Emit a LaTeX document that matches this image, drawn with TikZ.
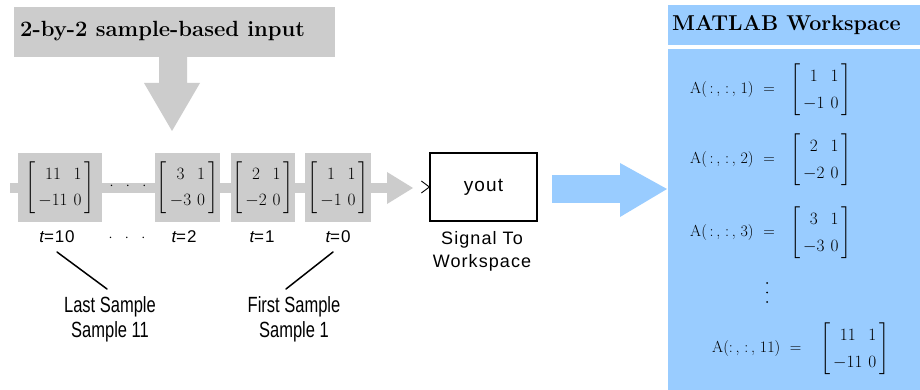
\documentclass[tikz,border=0pt]{standalone}
\usepackage{fontspec}
\usepackage{amsmath}
\usetikzlibrary{calc}
\newfontfamily\simfont[FakeStretch=0.75]{Liberation Sans}
\newfontfamily\blkfont[LetterSpace=6]{Liberation Sans}
\newfontfamily\tfont[LetterSpace=5]{Liberation Sans}
\definecolor{gbox}{HTML}{CCCCCC}
\definecolor{wsblue}{HTML}{99CCFF}
\newcommand\wsstretch{1.35}
\newcommand\wsmat[4]{$\renewcommand{\arraystretch}{\wsstretch}\left[\begin{array}{@{\,}c@{\hspace{6pt}}c@{\,}}#1&#2\\#3&#4\end{array}\right]$}
\begin{document}
\begin{tikzpicture}[x=1pt,y=-1pt,
  mbox/.style={fill=gbox,minimum height=69pt,inner sep=0pt,font=\fontsize{18}{22}\selectfont\renewcommand\wsstretch{1.2}},
  tlab/.style={font=\tfont\fontsize{17}{20}\selectfont,inner sep=0pt},
  smp/.style={font=\simfont\fontsize{22}{25}\selectfont,align=center,inner sep=0pt},
  blk/.style={font=\blkfont\fontsize{18}{23}\selectfont,align=center,inner sep=0pt},
  ent/.style={font=\fontsize{16}{20}\selectfont,inner sep=0pt,anchor=west},
  ptr/.style={line width=1.5pt,line cap=round}]
\useasboundingbox (0,0) rectangle (920,390);
\fill[white] (0,0) rectangle (920,390);

% input title box and down arrow
\node[fill=gbox,minimum width=321pt,minimum height=50pt,inner sep=0pt,anchor=north west] (inbox) at (14,7) {};
\node[anchor=west,inner sep=0pt,font=\bfseries\fontsize{22}{26}\selectfont] (intext) at (20,31) {2-by-2 sample-based input};
\fill[gbox] (159,57) -- (187,57) -- (187,83) -- (200,83) -- (172,131) -- (144,83) -- (159,83) -- cycle;

% horizontal signal band
\fill[gbox] (10,183) rectangle (388,193);
\fill[gbox] (387,172) -- (413,188) -- (387,204) -- cycle;

% sample matrices
\node[mbox,minimum width=84pt] (m10) at (60,187.5) {\wsmat{11}{1}{-11}{0}};
\node[mbox,minimum width=65pt] (m2) at (187.5,187.5) {\wsmat{3}{1}{-3}{0}};
\node[mbox,minimum width=64pt] (m1) at (263,187.5) {\wsmat{2}{1}{-2}{0}};
\node[mbox,minimum width=66pt] (m0) at (338,187.5) {\wsmat{1}{1}{-1}{0}};
\node[inner sep=0pt,font=\fontsize{14}{17}\selectfont] (dots1) at (128,186) {$\cdot\ \ \cdot\ \ \cdot$};

% time labels
\node[tlab] (t10) at (57,237) {\itshape t\upshape =10};
\node[inner sep=0pt,font=\fontsize{14}{17}\selectfont] (dots2) at (127,238) {$\cdot\ \ \cdot\ \ \cdot$};
\node[tlab] (t2) at (184,237) {\itshape t\upshape =2};
\node[tlab] (t1) at (262,237) {\itshape t\upshape =1};
\node[tlab] (t0) at (338,237) {\itshape t\upshape =0};

% sample labels
\node[smp] (last) at (110,319) {Last Sample\\Sample 11};
\node[smp] (first) at (294,319) {First Sample\\Sample 1};
\coordinate (l1a) at (57,252);
\coordinate (l1b) at (107,289);
\coordinate (l2a) at (333,252);
\coordinate (l2b) at (286,289);
\draw[ptr] (l1a) -- (l1b);
\draw[ptr] (l2a) -- (l2b);

% signal to workspace block
\node[draw=black,line width=1.3pt,minimum width=107pt,minimum height=68pt,inner sep=0pt,font=\fontsize{19}{22}\selectfont\blkfont] (sig) at (483.5,187) {yout};
\draw[line width=0.9pt] ($(sig.west)+(-8,-6)$) -- (sig.west) -- ($(sig.west)+(-8,6)$);
\node[blk] (siglab) at (482,251) {Signal To\\Workspace};

% blue arrow
\fill[wsblue] (552,175) rectangle (621,203);
\fill[wsblue] (620,163) -- (667,189) -- (620,217) -- cycle;

% workspace panel
\node[fill=wsblue,minimum width=252pt,minimum height=40pt,inner sep=0pt,anchor=north west] (wshead) at (668,5) {};
\node[anchor=west,inner sep=0pt,font=\bfseries\fontsize{21.5}{25}\selectfont] (wstitle) at (672,25) {MATLAB Workspace};
\node[fill=wsblue,minimum width=252pt,minimum height=341pt,inner sep=0pt,anchor=north west] (wsbody) at (668,49) {};

\node[ent] (a1) at (690,90) {A(\,:\,, :\,, 1) \ =};
\node[ent] (b1) at (790,90) {\wsmat{1}{1}{-1}{0}};
\node[ent] (a2) at (690,160) {A(\,:\,, :\,, 2) \ =};
\node[ent] (b2) at (790,160) {\wsmat{2}{1}{-2}{0}};
\node[ent] (a3) at (690,233) {A(\,:\,, :\,, 3) \ =};
\node[ent] (b3) at (790,233) {\wsmat{3}{1}{-3}{0}};
\fill (767,283) circle (1pt) (767,292.5) circle (1pt) (767,302) circle (1pt);
\node[ent] (a11) at (712,349) {A(:\,, :\,, 11) \ =};
\node[ent] (b11) at (820,349) {\wsmat{11}{1}{-11}{0}};
\end{tikzpicture}
\end{document}
